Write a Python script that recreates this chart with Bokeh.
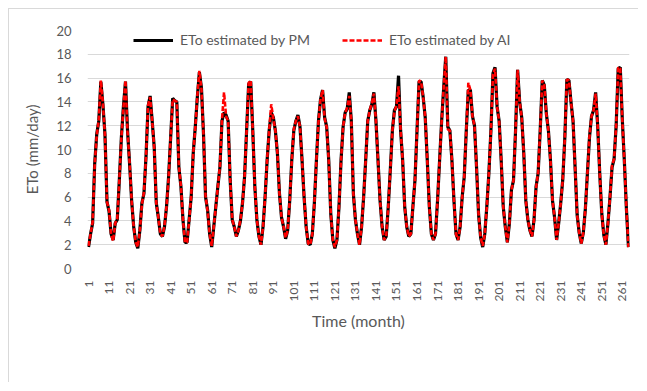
import math
from bokeh.plotting import figure
from bokeh.models import FixedTicker, Range1d, Legend, LegendItem
from bokeh.embed import file_html
from bokeh.resources import INLINE

months = list(range(1, 265))

pm = [
    1.8, 2.9, 3.8, 8.8, 11.3, 12.4, 15.7, 13.8, 11.3, 5.6, 4.8, 2.9,
    2.4, 3.8, 4.1, 7.4, 11.0, 13.6, 15.7, 11.6, 8.8, 5.7, 3.5, 2.2,
    1.7, 3.2, 5.5, 6.3, 9.4, 13.6, 14.5, 12.4, 10.2, 5.5, 4.3, 2.9,
    2.7, 3.5, 5.2, 7.7, 11.0, 14.3, 14.1, 14.0, 8.5, 6.9, 4.1, 2.2,
    2.2, 4.1, 6.0, 9.7, 11.9, 14.4, 16.5, 15.2, 11.3, 6.0, 4.9, 2.9,
    1.8, 3.5, 5.2, 6.9, 8.5, 12.4, 13.1, 12.9, 12.4, 7.4, 4.1, 3.5,
    2.7, 3.2, 4.0, 5.5, 7.7, 11.6, 15.5, 15.7, 11.6, 6.9, 4.1, 2.7,
    2.0, 3.5, 6.0, 9.1, 11.6, 13.1, 12.7, 11.6, 9.7, 6.3, 4.3, 3.5,
    2.5, 3.2, 5.7, 9.1, 11.6, 12.4, 12.9, 11.9, 9.1, 6.0, 3.5, 2.1,
    2.0, 2.9, 5.5, 9.1, 12.4, 14.2, 15.0, 12.7, 11.9, 9.1, 4.6, 2.4,
    1.7, 2.4, 5.2, 9.1, 11.9, 13.1, 13.4, 14.8, 12.4, 6.3, 4.1, 2.9,
    2.0, 3.5, 6.0, 9.1, 12.4, 13.3, 13.8, 14.8, 12.4, 9.1, 5.7, 3.5,
    2.4, 2.7, 5.2, 8.3, 11.6, 13.3, 13.6, 16.2, 11.6, 9.1, 5.2, 3.5,
    2.7, 2.9, 5.2, 7.4, 11.6, 15.7, 15.7, 14.4, 12.7, 9.1, 5.2, 2.9,
    2.4, 2.9, 5.7, 9.1, 12.4, 15.2, 17.8, 11.9, 11.6, 9.1, 5.7, 2.9,
    2.4, 3.5, 6.0, 7.7, 11.6, 15.0, 15.0, 12.8, 12.0, 8.5, 4.5, 2.6,
    1.8, 2.9, 5.2, 8.0, 11.6, 16.4, 16.9, 13.6, 12.4, 9.1, 5.2, 3.5,
    2.2, 3.8, 6.6, 7.4, 11.6, 16.7, 14.0, 12.7, 9.7, 5.7, 4.1, 3.2,
    2.7, 4.1, 6.9, 8.0, 11.6, 15.8, 15.4, 13.0, 11.6, 9.1, 5.7, 4.3,
    2.4, 3.8, 5.5, 7.5, 11.0, 15.9, 15.8, 14.0, 12.4, 8.5, 4.5, 3.0,
    2.1, 3.0, 5.0, 8.0, 11.0, 12.8, 13.3, 14.8, 12.0, 8.0, 4.6, 2.8,
    2.0, 3.8, 6.0, 8.5, 9.2, 12.0, 16.8, 16.9, 12.5, 9.0, 5.0, 1.8,
]

ai = [
    1.9, 2.9, 3.9, 8.7, 11.2, 12.5, 15.8, 13.9, 11.2, 5.6, 4.9, 2.9,
    2.3, 3.8, 4.2, 7.4, 11.0, 13.5, 15.8, 11.5, 8.9, 5.7, 3.5, 2.2,
    1.8, 3.2, 5.4, 6.4, 9.4, 13.7, 14.4, 12.4, 10.1, 5.5, 4.3, 2.9,
    2.7, 3.6, 5.2, 7.6, 11.1, 14.2, 14.1, 14.0, 8.6, 6.9, 4.1, 2.2,
    2.2, 4.0, 6.1, 9.7, 11.8, 14.5, 16.6, 15.1, 11.3, 6.1, 4.8, 2.9,
    1.9, 3.5, 5.2, 6.9, 8.6, 12.5, 14.8, 12.8, 12.4, 7.4, 4.1, 3.5,
    2.7, 3.2, 4.1, 5.5, 7.7, 11.6, 15.6, 15.8, 11.5, 6.9, 4.1, 2.7,
    2.0, 3.5, 6.0, 9.2, 11.6, 13.8, 12.6, 11.6, 9.7, 6.3, 4.3, 3.5,
    2.6, 3.2, 5.7, 9.1, 11.7, 12.4, 12.8, 11.9, 9.1, 6.0, 3.5, 2.1,
    2.0, 2.9, 5.5, 9.1, 12.3, 14.2, 15.0, 12.6, 11.9, 9.1, 4.6, 2.4,
    1.8, 2.4, 5.2, 9.1, 11.9, 13.1, 13.5, 14.5, 12.4, 6.3, 4.1, 2.9,
    2.0, 3.5, 6.0, 9.1, 12.4, 13.3, 13.9, 14.7, 12.4, 9.1, 5.7, 3.5,
    2.4, 2.7, 5.2, 8.3, 11.6, 13.2, 13.7, 15.3, 11.7, 9.1, 5.2, 3.5,
    2.7, 2.9, 5.2, 7.4, 11.6, 15.8, 15.7, 14.4, 12.7, 9.1, 5.2, 2.9,
    2.4, 2.9, 5.7, 9.1, 12.4, 15.2, 17.8, 11.7, 11.6, 9.1, 5.7, 2.9,
    2.4, 3.5, 6.0, 7.7, 11.6, 15.6, 15.0, 12.8, 12.0, 8.5, 4.5, 2.6,
    1.9, 2.9, 5.2, 8.0, 11.6, 16.3, 16.8, 13.6, 12.4, 9.1, 5.2, 3.5,
    2.2, 3.8, 6.6, 7.4, 11.6, 16.7, 14.0, 12.7, 9.7, 5.7, 4.1, 3.2,
    2.7, 4.1, 6.8, 8.1, 11.6, 15.8, 15.4, 13.0, 11.6, 9.1, 5.7, 4.3,
    2.4, 3.8, 5.5, 7.5, 11.0, 15.9, 15.8, 14.0, 12.4, 8.5, 4.5, 3.0,
    2.1, 3.0, 5.0, 8.0, 11.1, 12.8, 13.3, 14.7, 12.0, 8.0, 4.6, 2.8,
    2.0, 3.8, 6.0, 8.7, 9.2, 12.0, 16.9, 16.8, 12.5, 9.0, 5.0, 1.8,
]

x_ticks = list(range(1, 262, 10))
y_ticks = list(range(0, 21, 2))
series_names = ["ETo estimated by PM", "ETo estimated by AI"]
x_title = "Time (month)"
y_title = "ETo (mm/day)"

FONT = "Lato"
TXT = "#595959"
GRID = "#d9d9d9"

p = figure(width=630, height=374, output_backend="svg", toolbar_location=None,
           x_range=Range1d(0.5, 264.5), y_range=Range1d(0, 20),
           min_border_left=78, min_border_right=10, min_border_top=21, min_border_bottom=115)
p.styles = {"margin-left": "8px", "margin-top": "8px",
            "border-top": "1px solid #d9d9d9", "border-left": "1px solid #d9d9d9"}
p.outline_line_color = None
p.background_fill_color = "white"
p.border_fill_color = "white"

r_pm = p.line(months, pm, line_color="black", line_width=3.2)
r_ai = p.line(months, ai, line_color="#ff0000", line_width=2.6, line_dash="5 2")

p.xaxis.ticker = FixedTicker(ticks=x_ticks)
p.yaxis.ticker = FixedTicker(ticks=y_ticks)
p.xaxis.major_label_orientation = math.pi / 2
for ax in (p.xaxis, p.yaxis):
    ax.axis_line_color = None
    ax.major_tick_line_color = None
    ax.minor_tick_line_color = None
    ax.major_label_text_color = TXT
    ax.major_label_text_font = FONT
    ax.axis_label_text_color = TXT
    ax.axis_label_text_font = FONT
    ax.axis_label_text_font_style = "normal"
p.xaxis.major_label_text_font_size = "12px"
p.yaxis.major_label_text_font_size = "13px"
p.xaxis.axis_label = x_title
p.yaxis.axis_label = y_title
p.xaxis.axis_label_text_font_size = "16px"
p.yaxis.axis_label_text_font_size = "15px"
p.xaxis.major_label_standoff = 6
p.yaxis.major_label_standoff = 10
p.xaxis.axis_label_standoff = 7
p.yaxis.axis_label_standoff = 12

p.xgrid.grid_line_color = None
p.ygrid.grid_line_color = GRID
p.ygrid.grid_line_width = 1

legend = Legend(items=[LegendItem(label=series_names[0], renderers=[r_pm]),
                       LegendItem(label=series_names[1], renderers=[r_ai])],
                orientation="horizontal", location=(46, 220),
                glyph_width=40, glyph_height=14, label_standoff=7, spacing=32,
                padding=2, margin=0, border_line_color=None,
                background_fill_alpha=1.0, background_fill_color="white",
                label_text_font=FONT, label_text_font_size="14px", label_text_color=TXT)
p.add_layout(legend, "center")

open("out.html", "w").write(file_html(p, INLINE))
